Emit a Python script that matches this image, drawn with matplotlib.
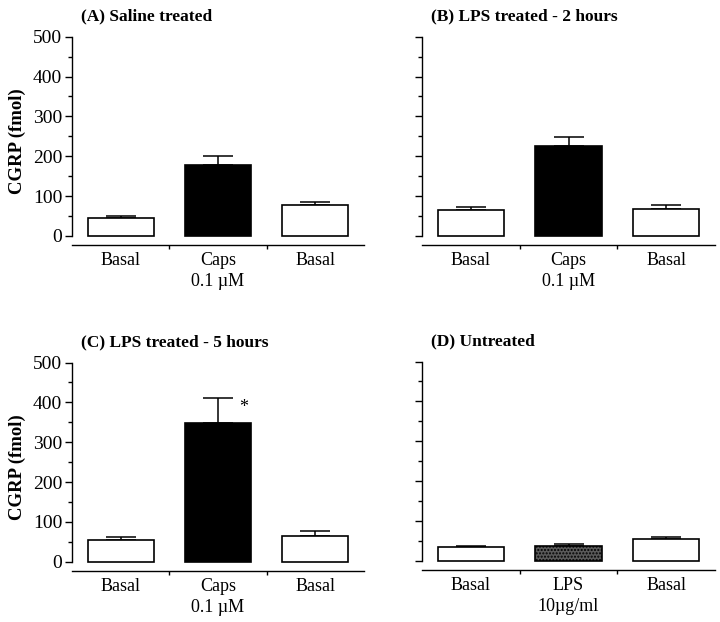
import matplotlib
matplotlib.use("Agg")
import matplotlib.pyplot as plt

plt.rcParams['font.family'] = ['Liberation Serif', 'DejaVu Serif']

categories_caps = ["Basal", "Caps\n0.1 \u00b5M", "Basal"]
categories_lps = ["Basal", "LPS\n10\u00b5g/ml", "Basal"]

saline_vals = [45, 178, 78]
saline_err = [4, 23, 8]
lps2h_vals = [65, 226, 67]
lps2h_err = [7, 22, 10]
lps5h_vals = [56, 348, 64]
lps5h_err = [6, 64, 13]
untreated_vals = [34, 38, 54]
untreated_err = [4, 5, 6]

titles = ["(A) Saline treated", "(B) LPS treated - 2 hours",
          "(C) LPS treated - 5 hours", "(D) Untreated"]
yticks = [0, 100, 200, 300, 400, 500]

W, H = 720, 622
fig = plt.figure(figsize=(W / 100, H / 100), dpi=100)

def rect(l, r, t, b):
    return [l / W, 1 - b / H, (r - l) / W, (b - t) / H]

YMIN = -23
panels = [
    (rect(72, 364, 36.7, 245), saline_vals, saline_err, categories_caps, 'black', True, titles[0]),
    (rect(422, 715, 36.7, 245), lps2h_vals, lps2h_err, categories_caps, 'black', False, titles[1]),
    (rect(72, 364, 362.5, 571), lps5h_vals, lps5h_err, categories_caps, 'black', True, titles[2]),
    (rect(422, 715, 361.5, 570), untreated_vals, untreated_err, categories_lps, 'gray', False, titles[3]),
]

for i, (pos, vals, errs, cats, mid, show_y, title) in enumerate(panels):
    ax = fig.add_axes(pos)
    x = range(len(vals))
    faces = ['white', 'black' if mid == 'black' else '#5a5a5a', 'white']
    hatches = [None, None if mid == 'black' else '.....', None]
    for xi, v, e, fc, h in zip(x, vals, errs, faces, hatches):
        ax.errorbar(xi, v, yerr=[[0], [e]], fmt='none', ecolor='black',
                    elinewidth=1.1, capsize=11, capthick=1.1, zorder=1)
        ax.bar(xi, v, width=0.68, facecolor=fc, edgecolor='black',
               linewidth=1.2, hatch=h, zorder=2)
    ax.set_xlim(-0.5, 2.5)
    ax.set_ylim(YMIN, 500)
    for s in ['top', 'right']:
        ax.spines[s].set_visible(False)
    ax.spines['left'].set_bounds(0, 500)
    ax.spines['left'].set_linewidth(1.0)
    ax.spines['bottom'].set_linewidth(1.0)
    ax.set_yticks(yticks)
    ax.set_yticks(range(50, 500, 100), minor=True)
    ax.tick_params(axis='y', which='major', length=5, width=1, labelsize=14, pad=2)
    ax.tick_params(axis='y', which='minor', length=3, width=1)
    if not show_y:
        ax.set_yticklabels([])
    else:
        ax.set_ylabel("CGRP (fmol)", fontsize=13.5, fontweight='bold', labelpad=5)
    ax.set_xticks([0.5, 1.5])
    ax.set_xticklabels([])
    ax.tick_params(axis='x', which='major', length=3, width=1)
    ax.set_xticks(list(x), minor=True)
    ax.set_xticklabels(cats, minor=True, fontsize=13, linespacing=1.3)
    ax.tick_params(axis='x', which='minor', length=0, pad=5)
    ax.text(0.03, 1.06, title, transform=ax.transAxes, fontsize=12.5,
            fontweight='bold', ha='left', va='bottom')
    if i == 2:
        ax.text(1.26, vals[1] + errs[1] - 25, "*", fontsize=13, ha='center', va='center')

fig.savefig("out.png", dpi=100)
